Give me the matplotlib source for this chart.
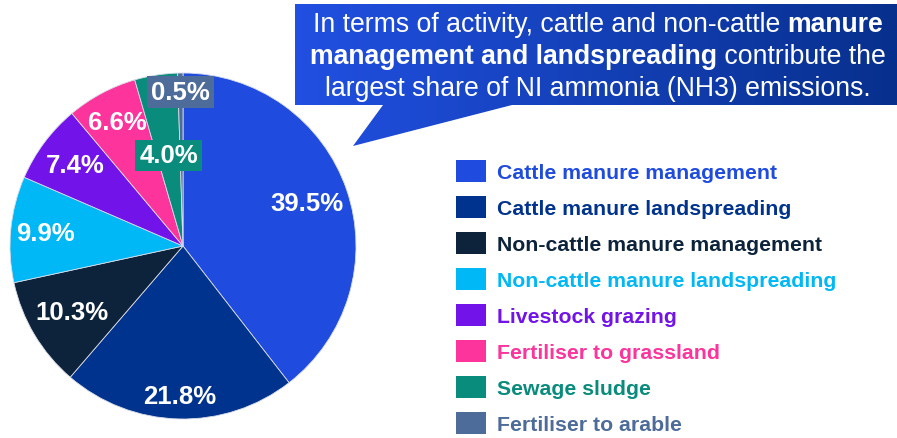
import numpy as np
import matplotlib
matplotlib.use('Agg')
import matplotlib.pyplot as plt
from matplotlib.patches import Polygon, Rectangle

plt.rcParams['font.family'] = ['Liberation Sans', 'DejaVu Sans']

# Data
labels = ['Cattle manure management', 'Cattle manure landspreading',
          'Non-cattle manure management', 'Non-cattle manure landspreading',
          'Livestock grazing', 'Fertiliser to grassland', 'Sewage sludge',
          'Fertiliser to arable']
shares = [39.5, 21.8, 10.3, 9.9, 7.4, 6.6, 4.0, 0.5]
colors = ['#1F4BDF', '#00338D', '#0C233B', '#00B8F5',
          '#7213EA', '#FD349C', '#098C7C', '#4E6C99']
label_r = [0.76, 0.87, 0.75, 0.80, 0.78, 0.81, 0.53, 0.89]
boxed = [False, False, False, False, False, False, True, True]

W, H = 897, 439
fig = plt.figure(figsize=(W / 100, H / 100), dpi=100)
ax = fig.add_axes([0, 0, 1, 1])

cx, cy, R = 183, H - 247, 173
wedges, _ = ax.pie(shares, colors=colors, startangle=90, counterclock=False,
                   center=(cx, cy), radius=R,
                   wedgeprops=dict(edgecolor='#d8dce8', linewidth=0.6))
ax.set_xlim(0, W)
ax.set_ylim(0, H)
ax.set_aspect('auto')
ax.axis('off')

# slice labels
for w, v, rf, b, c in zip(wedges, shares, label_r, boxed, colors):
    ang = np.deg2rad((w.theta1 + w.theta2) / 2)
    x = cx + rf * R * np.cos(ang)
    y = cy + rf * R * np.sin(ang)
    kw = {}
    if b:
        kw['bbox'] = dict(boxstyle='square,pad=0.15', fc=c, ec='none')
    ax.text(x, y, f'{v:.1f}%', color='white', fontsize=18.5, fontweight='bold',
            ha='center', va='center', **kw)

# callout with gradient
pts = [(295, 5), (897, 5), (897, 106), (512, 106), (353, 147), (383, 106), (295, 106)]
poly = Polygon([(x, H - y) for x, y in pts], closed=True, fc='none', ec='none')
ax.add_patch(poly)
c0 = np.array(matplotlib.colors.to_rgb('#2150E2'))
c1 = np.array(matplotlib.colors.to_rgb('#07308D'))
t = np.linspace(0, 1, 256)
grad = (c0[None, :] * (1 - t[:, None]) + c1[None, :] * t[:, None])[None, :, :]
im = ax.imshow(grad, extent=(295, 897, H - 147, H - 5), aspect='auto',
               interpolation='bilinear', zorder=2)
im.set_clip_path(poly)
ax.set_xlim(0, W)
ax.set_ylim(0, H)

callout = [
    [('In terms of activity, cattle and non-cattle ', 'normal'), ('manure', 'bold')],
    [('management and landspreading', 'bold'), (' contribute the', 'normal')],
    [('largest share of NI ammonia (NH3) emissions.', 'normal')],
]
line_y = [25, 57, 89]
fig.canvas.draw()
rend = fig.canvas.get_renderer()
mid_x = (295 + 897) / 2 + 2
for segs, ly in zip(callout, line_y):
    txts = []
    for s, wgt in segs:
        tt = ax.text(0, H - ly, s, color='white', fontsize=19.2, fontweight=wgt,
                     ha='left', va='center', zorder=3)
        txts.append(tt)
    widths = [tt.get_window_extent(rend).width for tt in txts]
    x = mid_x - sum(widths) / 2
    for tt, wd in zip(txts, widths):
        tt.set_x(x)
        x += wd

# legend
for i, (lab, c) in enumerate(zip(labels, colors)):
    yc = H - (172 + 36 * i)
    ax.add_patch(Rectangle((456, yc - 11), 30, 22, fc=c, ec='none'))
    ax.text(497, yc - 1.5, lab, color=c, fontsize=15.3, fontweight='bold',
            ha='left', va='center')

fig.savefig('out.png', dpi=100)
